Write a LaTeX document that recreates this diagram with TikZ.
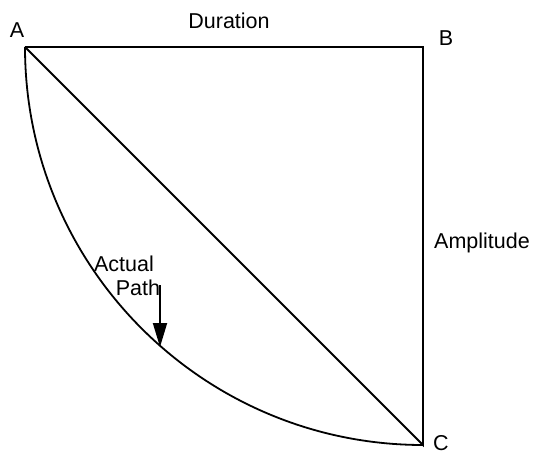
\documentclass[tikz,border=0pt]{standalone}
\usepackage{fontspec}
\setmainfont{Liberation Sans}
\usetikzlibrary{arrows.meta}
\tikzset{
  lbl/.style={inner sep=0pt, anchor=base, font=\fontsize{21.5}{25}\selectfont},
  edge/.style={line width=1.8pt},
}
\begin{document}
\begin{tikzpicture}[x=1pt,y=1pt]
\useasboundingbox (0,0) rectangle (535,-454);
\coordinate (A) at (25,-47);
\coordinate (B) at (423,-47);
\coordinate (C) at (423,-445);
\draw[edge] (A) -- (B) -- (C) -- (A);
\draw[edge] (A) arc[start angle=180, end angle=270, radius=398];
\node[lbl] (la) at (17,-38) {A};
\node[lbl] (lb) at (446,-46) {B};
\node[lbl] (lc) at (441,-450) {C};
\node[lbl] (dur) at (229,-29) {Duration};
\node[lbl] (amp) at (482,-248) {Amplitude};
\node[lbl] (act) at (124,-272) {Actual};
\node[lbl] (pth) at (138,-295) {Path};
\coordinate (p1) at (160,-285);
\coordinate (p2) at (160,-347);
\draw[edge, -{Triangle[length=24pt,width=14pt]}] (p1) -- (p2);
\end{tikzpicture}
\end{document}
